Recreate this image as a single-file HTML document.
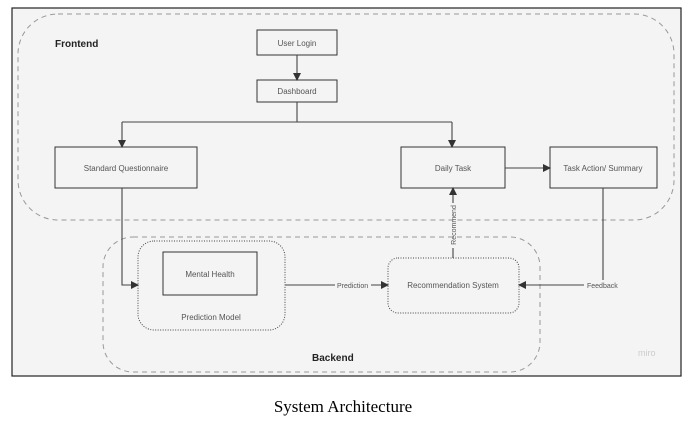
<!DOCTYPE html>
<html><head><style>
body{margin:0;background:#fff;width:687px;height:419px;overflow:hidden}
</style></head><body>
<svg width="687" height="419" xmlns="http://www.w3.org/2000/svg" font-family="Liberation Sans, sans-serif">
<defs><marker id="a" markerWidth="8" markerHeight="8" refX="7" refY="4" orient="auto" markerUnits="userSpaceOnUse"><path d="M0,0 L8,4 L0,8 z" fill="#333"/></marker></defs>
<rect x="12" y="8" width="669" height="368" fill="#f4f4f4" stroke="#222" stroke-width="1.2"/>
<rect x="18" y="14" width="656" height="206" rx="40" fill="none" stroke="#999" stroke-dasharray="5,4"/>
<rect x="103" y="237" width="437" height="135" rx="30" fill="none" stroke="#999" stroke-dasharray="5,4"/>
<text x="55" y="47" font-size="10" font-weight="bold" fill="#222">Frontend</text>
<text x="312" y="361" font-size="10" font-weight="bold" fill="#222">Backend</text>
<text x="638" y="356" font-size="9" fill="#ccc">miro</text>
<g fill="#f4f4f4" stroke="#333" stroke-width="1">
<rect x="257" y="30" width="80" height="25"/>
<rect x="257" y="80" width="80" height="22"/>
<rect x="55" y="147" width="142" height="41"/>
<rect x="401" y="147" width="104" height="41"/>
<rect x="550" y="147" width="107" height="41"/>
</g>
<rect x="138" y="241" width="147" height="89" rx="16" fill="none" stroke="#444" stroke-dasharray="1,1.5"/>
<rect x="163" y="252" width="94" height="43" fill="none" stroke="#333"/>
<rect x="388" y="258" width="131" height="55" rx="10" fill="none" stroke="#444" stroke-dasharray="1,1.5"/>
<g font-size="8" fill="#555" text-anchor="middle">
<text x="297" y="46">User Login</text>
<text x="297" y="94">Dashboard</text>
<text x="126" y="171">Standard Questionnaire</text>
<text x="453" y="171">Daily Task</text>
<text x="603" y="171">Task Action/ Summary</text>
<text x="210" y="277">Mental Health</text>
<text x="211" y="320">Prediction Model</text>
<text x="453" y="288">Recommendation System</text>
</g>
<g fill="none" stroke="#444" stroke-width="1.1">
<path d="M297,55 V80" marker-end="url(#a)"/>
<path d="M297,102 V122 M122,122 H452"/>
<path d="M122,122 V147" marker-end="url(#a)"/>
<path d="M452,122 V147" marker-end="url(#a)"/>
<path d="M505,168 H550" marker-end="url(#a)"/>
<path d="M122,188 V285 H138" marker-end="url(#a)"/>
<path d="M285,285 H335 M371,285 H388" marker-end="url(#a)"/>
<path d="M453,258 V248 M453,203 V188" marker-end="url(#a)"/>
<path d="M603,188 V285 M603,285 H586 M584,285 H519" marker-end="url(#a)"/>
</g>
<rect x="586" y="280" width="32" height="9" fill="#f4f4f4"/>
<g font-size="7" fill="#555">
<text x="337" y="288">Prediction</text>
<text x="587" y="288">Feedback</text>
<text transform="translate(456,225) rotate(-90)" text-anchor="middle">Recommend</text>
</g>
<text x="343" y="412" font-family="Liberation Serif, serif" font-size="17" fill="#000" text-anchor="middle">System Architecture</text>
</svg>
</body></html>
